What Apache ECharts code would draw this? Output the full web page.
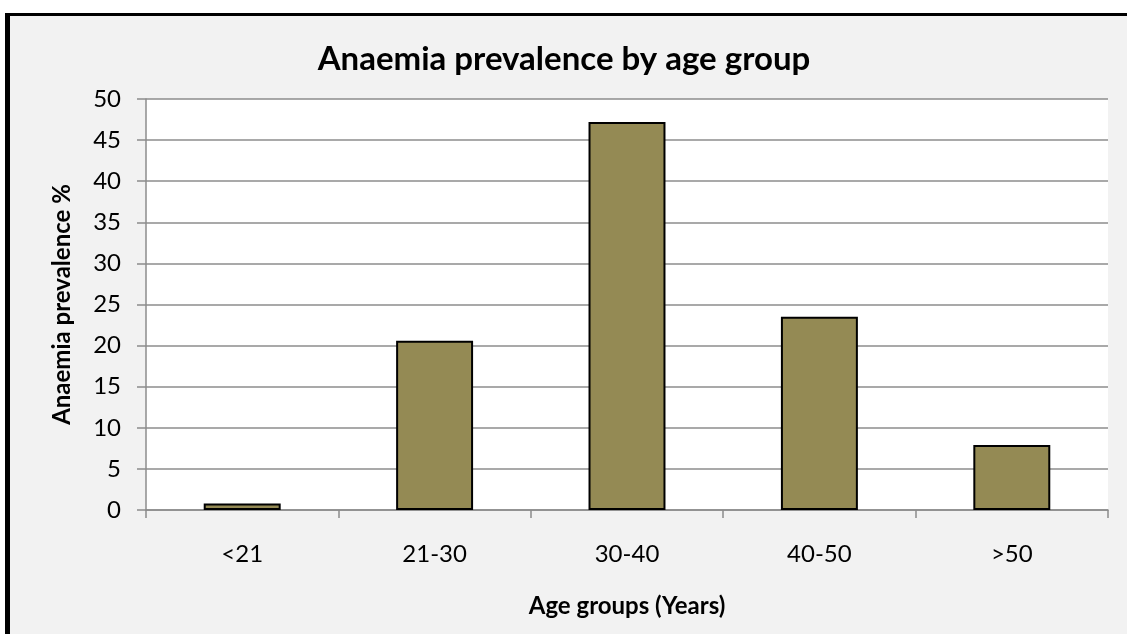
<!DOCTYPE html>
<html>
<head>
<meta charset="utf-8">
<script src="https://cdn.jsdelivr.net/npm/echarts@6/dist/echarts.min.js"></script>
<style>
  html, body { margin: 0; padding: 0; background: #ffffff; }
  #chart { width: 1127px; height: 634px; }
</style>
</head>
<body>
<div id="chart"></div>
<script>
// Age groups and anaemia prevalence (%)
const ageGroups = ['<21', '21-30', '30-40', '40-50', '>50'];
const prevalence = [0.8, 20.6, 47.2, 23.5, 7.9];

const FONT = 'Lato, "Liberation Sans", sans-serif';
const gridGray = '#8c8c8c';

const chart = echarts.init(document.getElementById('chart'), null, { renderer: 'canvas' });

chart.setOption({
  backgroundColor: '#f2f2f2',
  animation: false,
  title: {
    text: 'Anaemia prevalence by age group',
    left: 559,
    top: 38,
    textAlign: 'center',
    textStyle: { fontFamily: FONT, fontWeight: 'bold', fontSize: 33, color: '#000' }
  },
  grid: {
    left: 146, right: 19, top: 99, bottom: 124,
    show: true, backgroundColor: '#ffffff', borderWidth: 0
  },
  xAxis: {
    type: 'category',
    data: ageGroups,
    name: 'Age groups (Years)',
    nameLocation: 'middle',
    nameGap: 84,
    nameTextStyle: { fontFamily: FONT, fontWeight: 'bold', fontSize: 24, color: '#000' },
    axisLine: { show: true, lineStyle: { color: gridGray, width: 1.5 } },
    axisTick: { show: true, alignWithLabel: false, length: 8, lineStyle: { color: gridGray, width: 1.5 } },
    axisLabel: { fontFamily: FONT, fontSize: 24, color: '#000', margin: 32 }
  },
  yAxis: {
    type: 'value',
    min: 0, max: 50, interval: 5,
    name: 'Anaemia prevalence %',
    nameLocation: 'middle',
    nameGap: 72,
    nameRotate: 90,
    nameTextStyle: { fontFamily: FONT, fontWeight: 'bold', fontSize: 24, color: '#000' },
    axisLine: { show: true, lineStyle: { color: gridGray, width: 1.5 } },
    axisTick: { show: true, inside: false, length: 9, lineStyle: { color: gridGray, width: 1.5 } },
    axisLabel: { fontFamily: FONT, fontSize: 24, color: '#000', margin: 25 },
    splitLine: { show: true, lineStyle: { color: gridGray, width: 1.5 } }
  },
  series: [{
    type: 'bar',
    data: prevalence,
    barWidth: '40%',
    itemStyle: { color: '#948a54', borderColor: '#000', borderWidth: 2 }
  }],
  graphic: [
    // white margin and the heavy frame on the top and left
    { type: 'rect', shape: { x: 0, y: 0, width: 1127, height: 13 }, style: { fill: '#ffffff' }, silent: true },
    { type: 'rect', shape: { x: 0, y: 0, width: 5, height: 634 }, style: { fill: '#ffffff' }, silent: true },
    { type: 'rect', shape: { x: 5, y: 13, width: 1122, height: 3 }, style: { fill: '#000000' }, silent: true },
    { type: 'rect', shape: { x: 5, y: 13, width: 5, height: 621 }, style: { fill: '#000000' }, silent: true }
  ]
});
</script>
</body>
</html>
